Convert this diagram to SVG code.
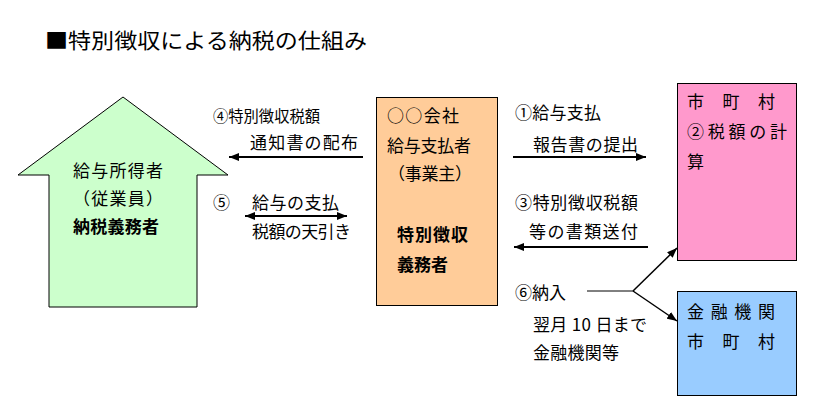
<svg xmlns="http://www.w3.org/2000/svg" width="820" height="417" viewBox="0 0 820 417">
<style>
text{font-family:"Noto Sans CJK JP","Noto Sans",sans-serif;font-size:17px;fill:#000}
.b{font-weight:bold}
.t{font-size:21px}
.s{font-size:15.5px}
.box{stroke:#000;stroke-width:1}
.ln{stroke:#000;fill:none}
</style>
<defs>
<marker id="ah" viewBox="0 0 10 8" refX="10" refY="4" markerWidth="10" markerHeight="8" markerUnits="userSpaceOnUse" orient="auto-start-reverse">
<path d="M0,0 L10,4 L0,8 Z" fill="#000"/>
</marker>
</defs>
<rect width="820" height="417" fill="#fff"/>
<text class="t" x="45" y="48" textLength="322" lengthAdjust="spacingAndGlyphs">■特別徴収による納税の仕組み</text>

<g id="employee">
<path class="box" d="M123,97 L228,175 L197,175 L197,307 L49,307 L49,175 L18,175 Z" fill="#CCFFCC"/>
<text x="73" y="177" textLength="90">給与所得者</text>
<text x="73" y="205" textLength="90">（従業員）</text>
<text class="b" x="73" y="233" textLength="86">納税義務者</text>
</g>

<g id="employer">
<rect class="box" x="376.5" y="97.5" width="121" height="208" fill="#FFCC99"/>
<text x="387" y="122" textLength="72">○○会社</text>
<text x="387" y="152" textLength="84">給与支払者</text>
<text x="388" y="180" textLength="84">（事業主）</text>
<text class="b" x="397" y="241" textLength="71">特別徴収</text>
<text class="b" x="397" y="271" textLength="51">義務者</text>
</g>

<g id="city">
<rect class="box" x="677.5" y="83.5" width="119" height="177" fill="#FF99CC"/>
<text x="687" y="108" textLength="88">市　町　村</text>
<text x="687" y="138" textLength="100">②税額の計</text>
<text x="687" y="168">算</text>
</g>

<g id="bank">
<rect class="box" x="677.5" y="291.5" width="119" height="104" fill="#99CCFF"/>
<text x="687" y="318" textLength="88">金融機関</text>
<text x="687" y="348" textLength="88">市　町　村</text>
</g>

<g id="labels">
<text class="s" x="213" y="122" textLength="107" lengthAdjust="spacingAndGlyphs">④特別徴収税額</text>
<text x="250" y="149" textLength="108">通知書の配布</text>
<text x="213" y="209">⑤</text>
<text x="252" y="209" textLength="87">給与の支払</text>
<text x="252" y="238" textLength="99">税額の天引き</text>
<text x="515" y="119" textLength="86">①給与支払</text>
<text x="533" y="151" textLength="105">報告書の提出</text>
<text x="515" y="209" textLength="123">③特別徴収税額</text>
<text x="529" y="238" textLength="109">等の書類送付</text>
<text x="515" y="299" textLength="51">⑥納入</text>
<text x="533" y="331" textLength="114" xml:space="preserve">翌月 10 日まで</text>
<text x="533" y="359" textLength="86">金融機関等</text>
</g>

<g id="connectors">
<line class="ln" x1="363" y1="157" x2="229" y2="157" stroke-width="2" marker-end="url(#ah)"/>
<line class="ln" x1="245" y1="216" x2="347" y2="216" stroke-width="2" marker-start="url(#ah)" marker-end="url(#ah)"/>
<line class="ln" x1="513" y1="157" x2="646" y2="157" stroke-width="2" marker-end="url(#ah)"/>
<line class="ln" x1="648" y1="247" x2="514" y2="247" stroke-width="2" marker-end="url(#ah)"/>
<line class="ln" x1="587" y1="291" x2="633" y2="291" stroke-width="1"/>
<line class="ln" x1="633" y1="291" x2="677" y2="248" stroke-width="1.5" marker-end="url(#ah)"/>
<line class="ln" x1="633" y1="291" x2="677" y2="321" stroke-width="1.5" marker-end="url(#ah)"/>
</g>
</svg>
